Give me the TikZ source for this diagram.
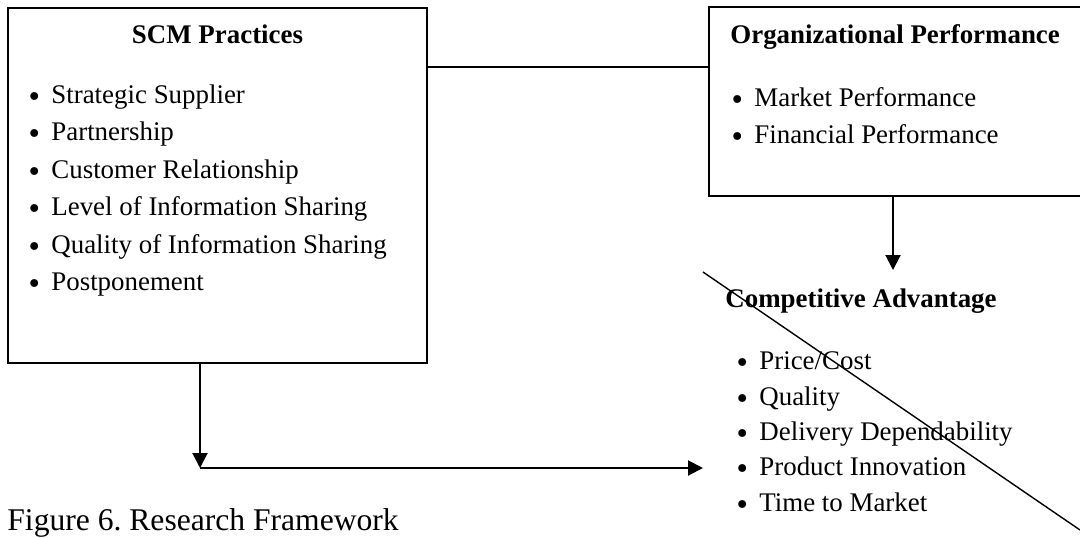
\documentclass[tikz,border=0pt]{standalone}
\usepackage{fontspec}
\setmainfont{Liberation Serif}
\newfontfamily\dotfont{DejaVu Sans}
\usetikzlibrary{arrows.meta,fit}
\frenchspacing

\tikzset{
  frame/.style={draw, line width=1pt, inner sep=0pt},
  wire/.style={line width=1pt},
  arr/.style={wire, -{Triangle[length=7.5pt,width=7.5pt]}},
  slash/.style={line width=0.7pt},
  heading/.style={font=\bfseries\fontsize{13.45}{16}\selectfont, inner sep=0pt, anchor=base west},
  entry/.style={font=\fontsize{13.45}{16}\selectfont, inner sep=0pt, anchor=base west},
  caption/.style={font=\fontsize{15.8}{18}\selectfont, inner sep=0pt, anchor=base west},
}
% bullet centred on the node origin, item text 8.5pt to its right
\newcommand\bulleted[1]{\makebox[0pt]{\raisebox{-1.5pt}{\dotfont •}}\hspace{8.5pt}#1}

\begin{document}
\begin{tikzpicture}[x=0.5pt,y=-0.5pt]
  \useasboundingbox (0,0) rectangle (1080,537);
  \clip (0,0) rectangle (1080,537);

  % boxes
  \node[frame, fit={(8,8)(427,363)}] (scm) {};
  \node[frame, fit={(709,7)(1095,196)}] (org) {};

  % SCM practices
  \node[heading, anchor=base] (scmtitle) at (217.5,43) {SCM Practices};
  \node[entry] (scm1) at (34,103)   {\bulleted{Strategic Supplier}};
  \node[entry] (scm2) at (34,140.5) {\bulleted{Partnership}};
  \node[entry] (scm3) at (34,178)   {\bulleted{Customer Relationship}};
  \node[entry] (scm4) at (34,215.5) {\bulleted{Level of Information Sharing}};
  \node[entry] (scm5) at (34,253)   {\bulleted{Quality of Information Sharing}};
  \node[entry] (scm6) at (34,290.5) {\bulleted{Postponement}};

  % organizational performance
  \node[heading] (orgtitle) at (730,43) {Organizational Performance};
  \node[entry] (org1) at (737,106) {\bulleted{Market Performance}};
  \node[entry] (org2) at (737,143) {\bulleted{Financial Performance}};

  % competitive advantage
  \node[heading] (catitle) at (725,307) {Competitive Advantage};
  \node[entry] (ca1) at (742,369) {\bulleted{Price/Cost}};
  \node[entry] (ca2) at (742,405) {\bulleted{Quality}};
  \node[entry] (ca3) at (742,440) {\bulleted{Delivery Dependability}};
  \node[entry] (ca4) at (742,475) {\bulleted{Product Innovation}};
  \node[entry] (ca5) at (742,511) {\bulleted{Time to Market}};

  % caption
  \node[caption] (cap) at (7,530) {Figure 6. Research Framework};

  % connector points
  \coordinate (link) at (0,67);
  \coordinate (drop) at (893,270);
  \coordinate (elbow) at (200,468);
  \coordinate (catarget) at (703,468);
  \coordinate (slashA) at (703,272);
  \coordinate (slashB) at (1080,530);

  % connectors
  \draw[wire] (scm.east |- link) -- (org.west |- link);
  \draw[arr] (org.south -| drop) -- (drop);
  \draw[arr] (scm.south -| elbow) -- (elbow);
  \draw[arr] (elbow) -- (catarget);
  \draw[slash] (slashA) -- (slashB);
\end{tikzpicture}
\end{document}
